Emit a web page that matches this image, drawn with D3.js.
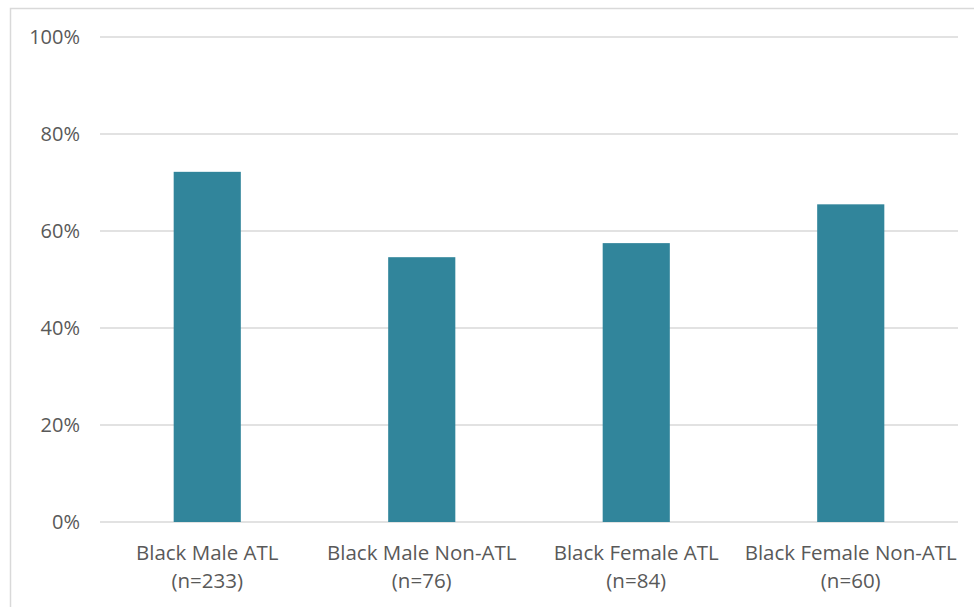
<!DOCTYPE html>
<html><head><meta charset="utf-8">
<script src="https://cdn.jsdelivr.net/npm/d3@7"></script>
<style>html,body{margin:0;padding:0;background:#fff;}svg{display:block;}</style>
</head><body>
<script>
const categories = ["Black Male ATL", "Black Male Non-ATL", "Black Female ATL", "Black Female Non-ATL"];
const sampleSizes = ["(n=233)", "(n=76)", "(n=84)", "(n=60)"];
const values = [0.722, 0.546, 0.575, 0.655];
const yTicks = [0, 0.2, 0.4, 0.6, 0.8, 1.0];

(function () {
const W = 974, H = 607;
const svg = d3.select("body").append("svg").attr("width", W).attr("height", H);
const font = "'Open Sans', sans-serif";

svg.append("rect").attr("x", 10.5).attr("y", 8.5).attr("width", W).attr("height", H)
  .attr("fill", "none").attr("stroke", "#d9d9d9").attr("stroke-width", 1.5);

const mLeft = 100, mRight = 958, mTop = 37, mBottom = 522;
const x = d3.scaleBand().domain(categories).range([mLeft, mRight]).padding(0);
const y = d3.scaleLinear().domain([0, 1]).range([mBottom, mTop]);

const grid = svg.append("g");
grid.selectAll("line").data(yTicks).join("line")
  .attr("x1", mLeft).attr("x2", mRight)
  .attr("y1", d => y(d)).attr("y2", d => y(d))
  .attr("stroke", "#d9d9d9").attr("stroke-width", 1.5);

const yAxis = d3.axisLeft(y).tickValues(yTicks).tickFormat(d3.format(".0%")).tickSize(0).tickPadding(0);
const ya = svg.append("g").attr("transform", `translate(80,0)`).call(yAxis);
ya.select(".domain").remove();
ya.selectAll("text").attr("fill", "#595959").attr("dy", "0.34em").style("font-family", font).style("font-size", "20px");

const bw = x.bandwidth() * 0.313;
svg.append("g").selectAll("rect").data(values).join("rect")
  .attr("x", (d, i) => x(categories[i]) + x.bandwidth() / 2 - bw / 2)
  .attr("width", bw)
  .attr("y", d => y(d))
  .attr("height", d => mBottom - y(d))
  .attr("fill", "#31859b");

const xl = svg.append("g");
categories.forEach((c, i) => {
  const cx = x(c) + x.bandwidth() / 2;
  const t = xl.append("text").attr("x", cx).attr("y", 560)
    .attr("text-anchor", "middle").attr("fill", "#595959")
    .style("font-family", font).style("font-size", "20.5px");
  t.append("tspan").attr("x", cx).attr("dy", 0).text(c);
  t.append("tspan").attr("x", cx).attr("dy", 28).text(sampleSizes[i]);
});
})();
</script>
</body></html>
